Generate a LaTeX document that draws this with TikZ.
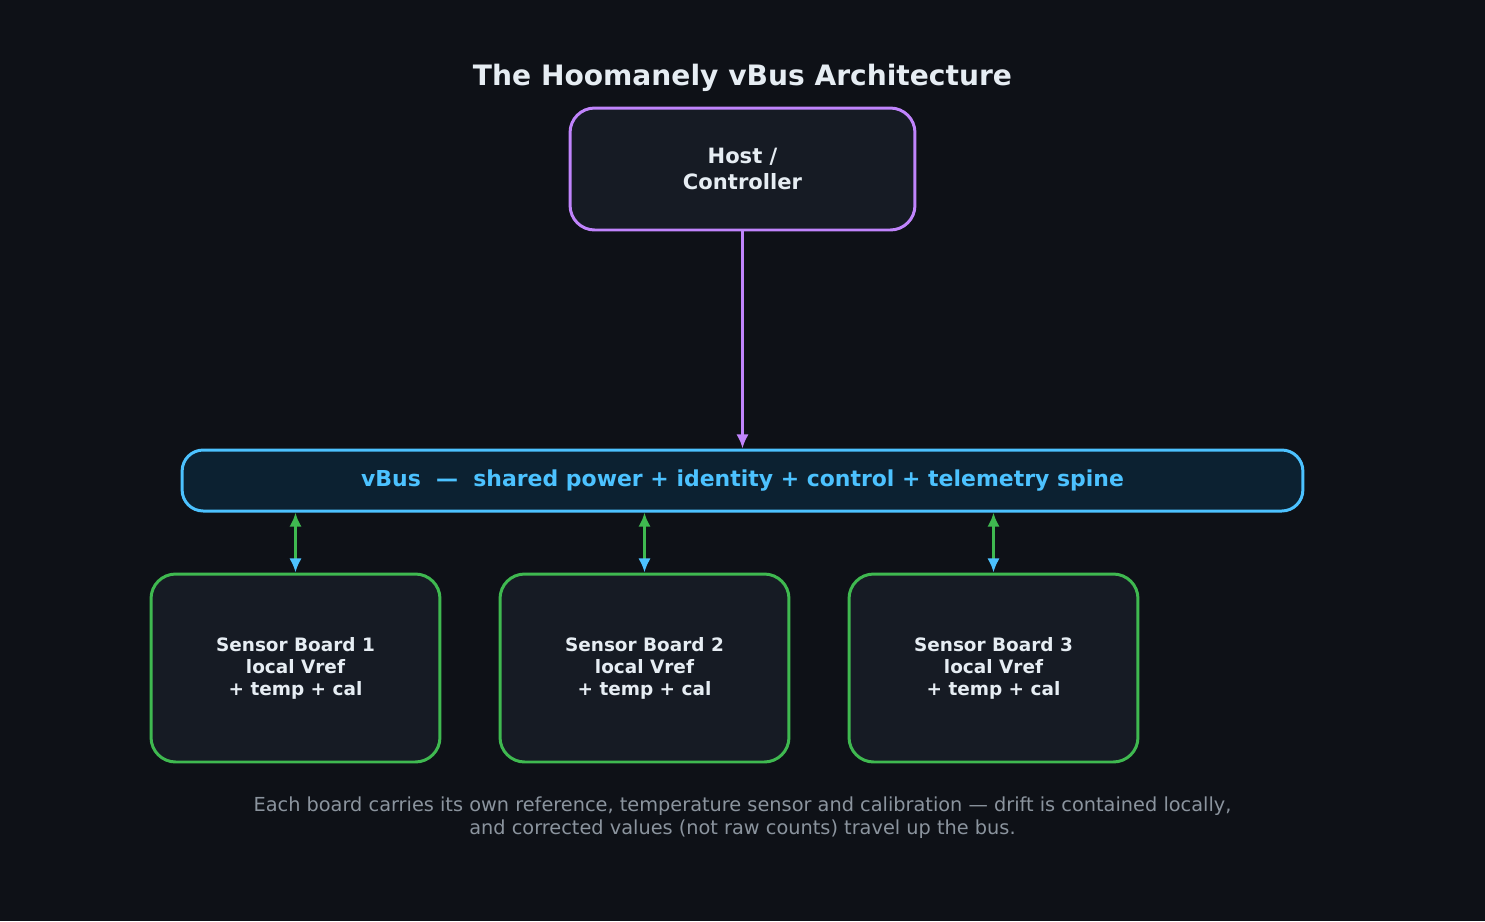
\documentclass[tikz,border=0pt]{standalone}
\usepackage{fontspec}
\setmainfont{DejaVu Sans}
\usetikzlibrary{arrows.meta,positioning}
\definecolor{bgc}{HTML}{0E1117}
\definecolor{boxc}{HTML}{161B24}
\definecolor{busc}{HTML}{0C2131}
\definecolor{purp}{HTML}{C084FC}
\definecolor{bluec}{HTML}{4CC2FF}
\definecolor{greenc}{HTML}{3FB950}
\definecolor{txtc}{HTML}{E6EDF3}
\definecolor{grayc}{HTML}{8B949E}
\tikzset{
    %Define standard arrow tip
    >={Latex[length=8pt,width=7pt]},
    %Define style for boxes
    box/.style={
           rectangle, rounded corners=14pt,
           line width=1.7pt, fill=boxc,
           text=txtc, font=\bfseries,
           align=center, inner sep=0pt},
    % Define arrow style
    pil/.style={
           line width=1.7pt}
}
\begin{document}
\begin{tikzpicture}[x=0.02cm,y=-0.02cm,
board/.style={box, draw=greenc, minimum width=5.78cm, minimum height=3.76cm, font=\bfseries\fontsize{10.5}{12.5}\selectfont}
]
\fill[bgc] (0,0) rectangle (1485,921);
\useasboundingbox (0,0) rectangle (1485,921);
%Nodes
\node[text=txtc, font=\bfseries\fontsize{16}{19}\selectfont] (title) at (742.5,78) {The Hoomanely vBus Architecture};
\node[box, draw=purp, minimum width=6.9cm, minimum height=2.44cm, font=\bfseries\fontsize{12}{15}\selectfont] (host) at (742.5,169) {Host /\\Controller};
\node[box, draw=bluec, fill=busc, text=bluec, rounded corners=12pt, minimum width=22.42cm, minimum height=1.22cm, font=\bfseries\fontsize{12.5}{15}\selectfont] (vbus) at (742.5,480.5) {vBus \ — \ shared power + identity + control + telemetry spine};
\node[board] (sb1) at (295.5,668) {Sensor Board 1\\local Vref\\+ temp + cal};
\node[board] (sb2) at (644.5,668) {Sensor Board 2\\local Vref\\+ temp + cal};
\node[board] (sb3) at (993.5,668) {Sensor Board 3\\local Vref\\+ temp + cal};
\node[text=grayc, align=center, font=\fontsize{11}{13}\selectfont] (note) at (742.5,818) {Each board carries its own reference, temperature sensor and calibration — drift is contained locally,\\and corrected values (not raw counts) travel up the bus.};
%Arrows
\draw[pil, purp, ->] (host) -- (vbus);
\foreach \b in {sb1,sb2,sb3}
  \draw[pil, greenc, {Latex[length=8pt,width=7pt,greenc]}-{Latex[length=8pt,width=7pt,bluec]}] (vbus.south -| \b.north) -- (\b.north);
\end{tikzpicture}
\end{document}
